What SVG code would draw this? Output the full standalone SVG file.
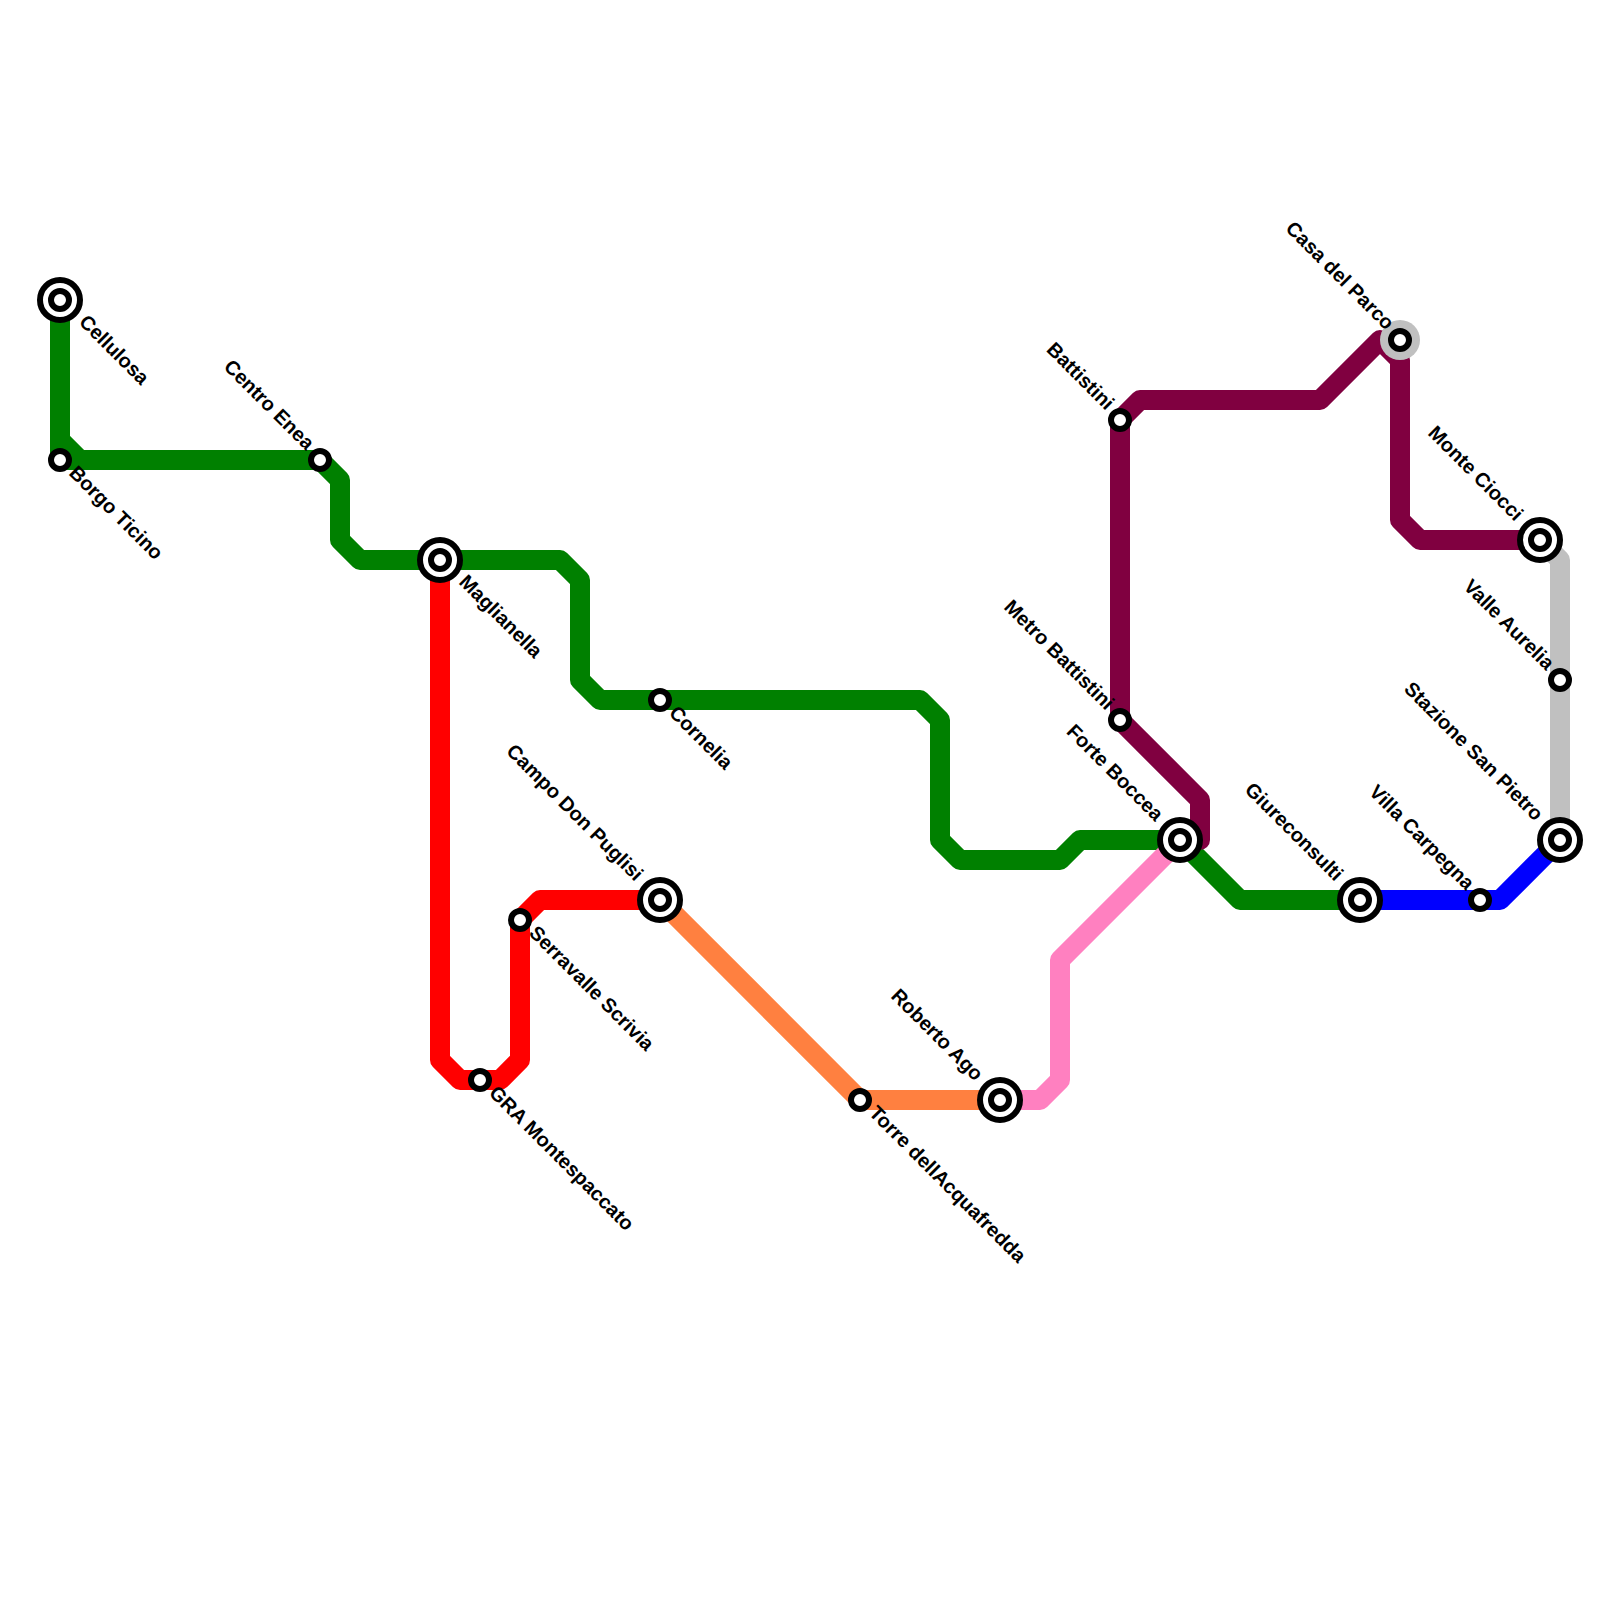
<svg xmlns="http://www.w3.org/2000/svg" width="1600" height="1600" viewBox="0 0 1600 1600">
<style>
.l{fill:none;stroke-width:20;stroke-linejoin:round;stroke-linecap:butt}
.o{fill:#fff;stroke:#000;stroke-width:6}
.t{font-family:"Liberation Sans",Arial,sans-serif;font-size:20px;font-weight:700;fill:#000;opacity:.999}
.e{text-anchor:end}
</style>
<rect width="1600" height="1600" fill="#fff"/>
<g id="connectors">
<path class="l" stroke="#008000" d="M60 300V440L80 460H320L340 480V540L360 560H560L580 580V680L600 700H920L940 720V840L960 860H1060L1080 840H1180L1240 900H1360"/>
<path class="l" stroke="#008000" d="M60 440V460H80"/>
<path class="l" stroke="#f00" d="M440 560V1060L460 1080H500L520 1060V920L540 900H660"/>
<path class="l" stroke="#ff8040" d="M660 900L860 1100H1000"/>
<path class="l" stroke="#ff80c0" d="M1000 1100H1040L1060 1080V960L1180 840"/>
<path class="l" stroke="#800040" d="M1120 420L1140 400H1320L1380 340L1400 360V520L1420 540H1540"/>
<path class="l" stroke="#800040" d="M1120 420V720L1200 800V840H1180"/>
<path class="l" stroke="#00f" d="M1360 900H1500L1560 840"/>
<path class="l" stroke="#c0c0c0" d="M1540 540L1560 560V840"/>
<circle cx="1400" cy="340" r="20" fill="#c0c0c0"/>
</g>
<g id="n1"><circle class="o" cx="60" cy="300" r="20"/><circle class="o" cx="60" cy="300" r="9"/><text class="t" transform="translate(78 323) rotate(45)">Cellulosa</text></g>
<g id="n2"><circle class="o" cx="60" cy="460" r="9"/><text class="t" transform="translate(68 474) rotate(45)">Borgo Ticino</text></g>
<g id="n3"><circle class="o" cx="320" cy="460" r="9"/><text class="t e" transform="translate(306 451) rotate(45)">Centro Enea</text></g>
<g id="n4"><circle class="o" cx="440" cy="560" r="20"/><circle class="o" cx="440" cy="560" r="9"/><text class="t" transform="translate(458 583) rotate(45)">Maglianella</text></g>
<g id="n5"><circle class="o" cx="660" cy="700" r="9"/><text class="t" transform="translate(668 714) rotate(45)">Cornelia</text></g>
<g id="n6"><circle class="o" cx="660" cy="900" r="20"/><circle class="o" cx="660" cy="900" r="9"/><text class="t e" transform="translate(635 882) rotate(45)">Campo Don Puglisi</text></g>
<g id="n7"><circle class="o" cx="520" cy="920" r="9"/><text class="t" transform="translate(528 934) rotate(45)">Serravalle Scrivia</text></g>
<g id="n8"><circle class="o" cx="480" cy="1080" r="9"/><text class="t" transform="translate(488 1094) rotate(45)">GRA Montespaccato</text></g>
<g id="n9"><circle class="o" cx="860" cy="1100" r="9"/><text class="t" transform="translate(868 1114) rotate(45)">Torre dellAcquafredda</text></g>
<g id="n10"><circle class="o" cx="1000" cy="1100" r="20"/><circle class="o" cx="1000" cy="1100" r="9"/><text class="t e" transform="translate(975 1082) rotate(45)">Roberto Ago</text></g>
<g id="n11"><circle class="o" cx="1120" cy="420" r="9"/><text class="t e" transform="translate(1106 411) rotate(45)">Battistini</text></g>
<g id="n12"><circle class="o" cx="1120" cy="720" r="9"/><text class="t e" transform="translate(1106 711) rotate(45)">Metro Battistini</text></g>
<g id="n13"><circle class="o" cx="1180" cy="840" r="20"/><circle class="o" cx="1180" cy="840" r="9"/><text class="t e" transform="translate(1155 822) rotate(45)">Forte Boccea</text></g>
<g id="n14"><circle class="o" cx="1360" cy="900" r="20"/><circle class="o" cx="1360" cy="900" r="9"/><text class="t e" transform="translate(1335 882) rotate(45)">Giureconsulti</text></g>
<g id="n15"><circle class="o" cx="1480" cy="900" r="9"/><text class="t e" transform="translate(1466 891) rotate(45)">Villa Carpegna</text></g>
<g id="n16"><circle class="o" cx="1400" cy="340" r="9"/><text class="t e" transform="translate(1386 331) rotate(45)">Casa del Parco</text></g>
<g id="n17"><circle class="o" cx="1540" cy="540" r="20"/><circle class="o" cx="1540" cy="540" r="9"/><text class="t e" transform="translate(1515 522) rotate(45)">Monte Ciocci</text></g>
<g id="n18"><circle class="o" cx="1560" cy="680" r="9"/><text class="t e" transform="translate(1546 671) rotate(45)">Valle Aurelia</text></g>
<g id="n19"><circle class="o" cx="1560" cy="840" r="20"/><circle class="o" cx="1560" cy="840" r="9"/><text class="t e" transform="translate(1535 822) rotate(45)">Stazione San Pietro</text></g>
</svg>
